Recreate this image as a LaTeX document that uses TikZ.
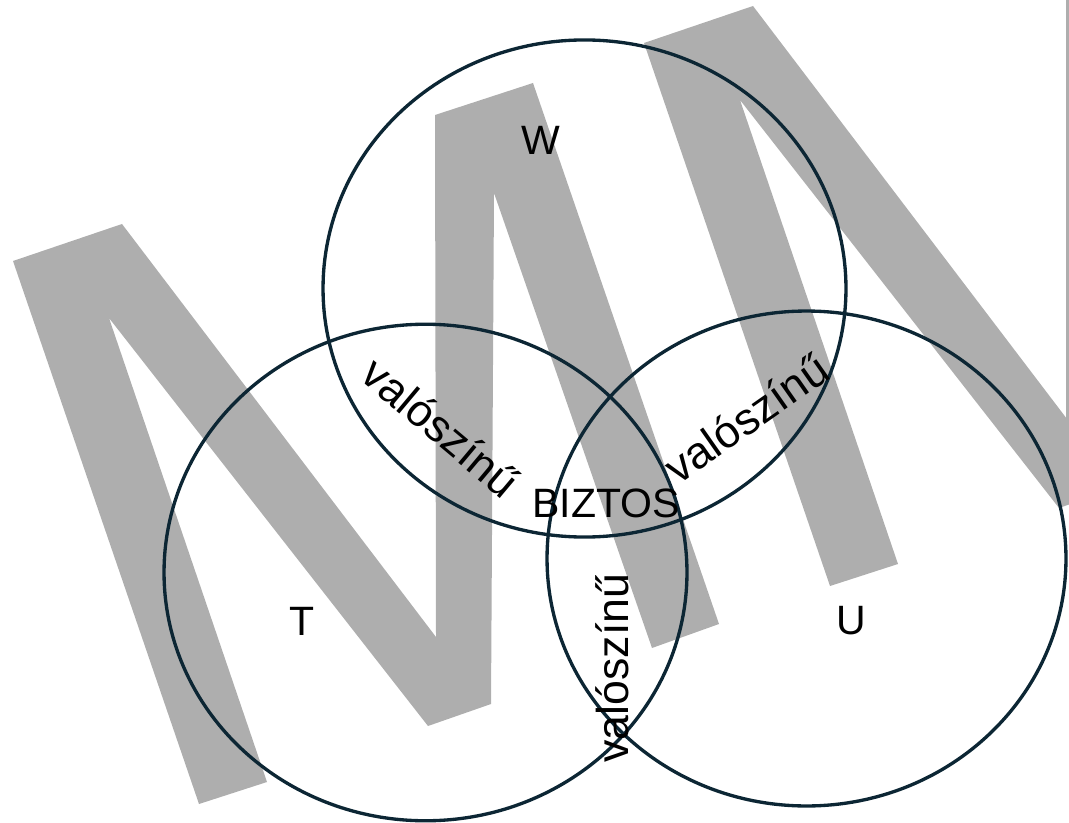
\documentclass[tikz,border=0pt]{standalone}
\usepackage{fontspec}
\setmainfont{Liberation Sans}
\begin{document}
\begin{tikzpicture}[x=0.75pt,y=-0.75pt]
\definecolor{wm}{HTML}{AEAEAE}
\definecolor{ringc}{HTML}{0C2634}
\tikzset{
  mshape/.style={fill=wm, draw=none},
  ring/.style={draw=ringc, line width=2.5pt},
  lbl/.style={font=\fontsize{30.75}{36}\selectfont, inner sep=0pt, text=black},
  vlbl/.style={font=\fontsize{33.5}{38}\selectfont, inner sep=0pt, text=black},
}
\useasboundingbox (0,0) rectangle (1069,823);
\begin{scope}
  \clip (0,0) rectangle (1069,823);
  \foreach \dx/\dy in {0/0, 631/-218} {
    \fill[mshape, shift={(\dx,\dy)}]
      (13,261) -- (122,224) -- (436,637) -- (435,115) -- (533,83) -- (719,624)
      -- (652,648) -- (494,193) -- (491,704) -- (428,726) -- (109,318)
      -- (267,782) -- (199,804) -- cycle;
  }
  \draw[wm, line width=1.5pt] (1066.5,0) -- (1066.5,430);
\end{scope}
\draw[ring] (584.5,288.5) ellipse [x radius=196.1pt, y radius=186.4pt];
\draw[ring] (425.5,572.5) ellipse [x radius=196.1pt, y radius=186.2pt];
\draw[ring] (806.5,558.5) ellipse [x radius=194.6pt, y radius=185.6pt];
\node[lbl] (w) at (541,140) {W};
\node[lbl] (t) at (302,621) {T};
\node[lbl] (u) at (851,621) {U};
\node[lbl] (b) at (606,503) {BIZTOS};
\node[vlbl, rotate=-40] (v1) at (441,427) {valószínű};
\node[vlbl, rotate=35] (v2) at (746,418) {valószínű};
\node[vlbl, rotate=90] (v3) at (612,668) {valószínű};
\end{tikzpicture}
\end{document}
